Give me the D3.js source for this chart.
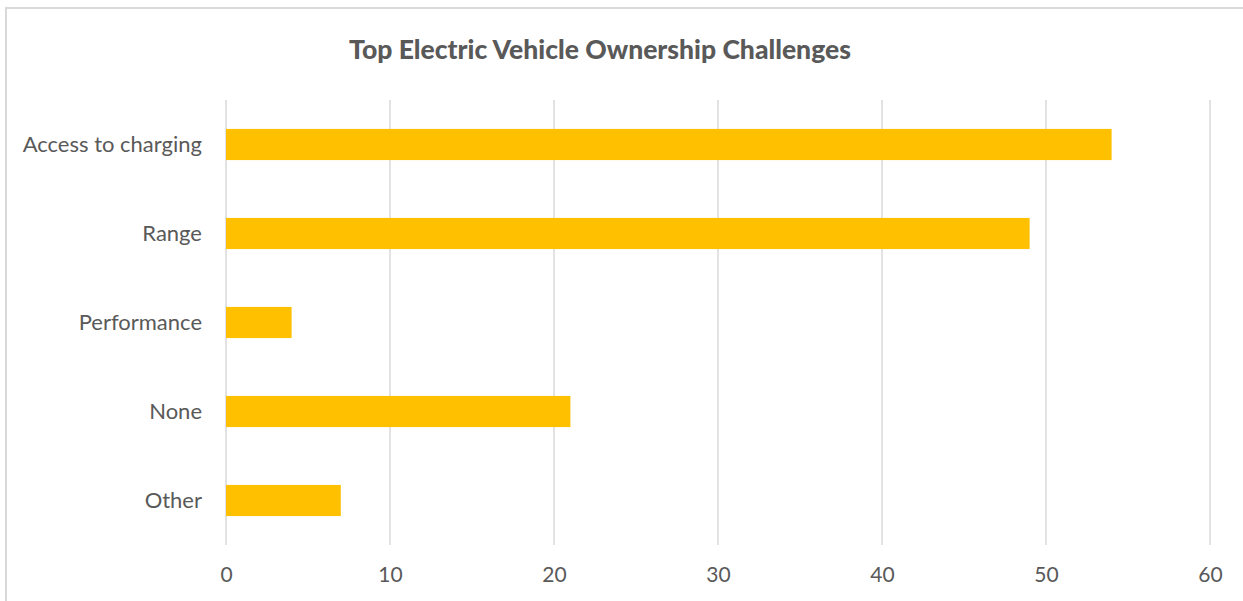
<!DOCTYPE html>
<html>
<head>
<meta charset="utf-8">
<script src="https://cdn.jsdelivr.net/npm/d3@7"></script>
<style>
  html, body { margin: 0; padding: 0; background: #fff; overflow: hidden; }
  svg { display: block; }
</style>
</head>
<body>
<svg id="chart" width="1243" height="601"></svg>
<script>
// Survey results: share of respondents naming each challenge
const categories = ["Access to charging", "Range", "Performance", "None", "Other"];
const values = [54, 49, 4, 21, 7];
const xTicks = [0, 10, 20, 30, 40, 50, 60];
const title = "Top Electric Vehicle Ownership Challenges";

const svg = d3.select("#chart");
const textColor = "#595959";
const gridColor = "#d9d9d9";
const barColor = "#FFC000";
const font = "Lato, 'Open Sans', sans-serif";

// Outer chart frame
svg.append("rect")
  .attr("x", 6).attr("y", 8)
  .attr("width", 1400).attr("height", 800)
  .attr("fill", "none")
  .attr("stroke", gridColor)
  .attr("stroke-width", 2);

const x = d3.scaleLinear().domain([0, 60]).range([226, 1210]);
const y = d3.scaleBand().domain(categories).range([100, 545])
  .paddingInner(0.65).paddingOuter(0.325);

// Vertical gridlines
svg.append("g").selectAll("line").data(xTicks).join("line")
  .attr("x1", d => x(d)).attr("x2", d => x(d))
  .attr("y1", 100).attr("y2", 545)
  .attr("stroke", gridColor)
  .attr("stroke-width", 1.5);

// Bars
svg.append("g").selectAll("rect").data(categories).join("rect")
  .attr("x", x(0))
  .attr("y", d => y(d))
  .attr("width", (d, i) => x(values[i]) - x(0))
  .attr("height", y.bandwidth())
  .attr("fill", barColor);

// X axis tick labels
const xAxis = d3.axisBottom(x).tickValues(xTicks).tickSize(0).tickPadding(0);
const gx = svg.append("g").attr("transform", "translate(0,575)").call(xAxis);
gx.select(".domain").remove();
gx.selectAll("text")
  .attr("dy", "0.35em")
  .attr("fill", textColor)
  .style("font-family", font)
  .style("font-size", "21px");

// Category labels
const yAxis = d3.axisLeft(y).tickSize(0).tickPadding(0);
const gy = svg.append("g").attr("transform", "translate(202,0)").call(yAxis);
gy.select(".domain").remove();
gy.selectAll("text")
  .attr("dy", "0.35em")
  .attr("fill", textColor)
  .style("font-family", font)
  .style("font-size", "22px");

// Title
svg.append("text")
  .attr("x", 600).attr("y", 59)
  .attr("text-anchor", "middle")
  .attr("fill", textColor)
  .style("font-family", font)
  .style("font-weight", "900")
  .style("font-size", "26.5px")
  .text(title);
</script>
</body>
</html>
